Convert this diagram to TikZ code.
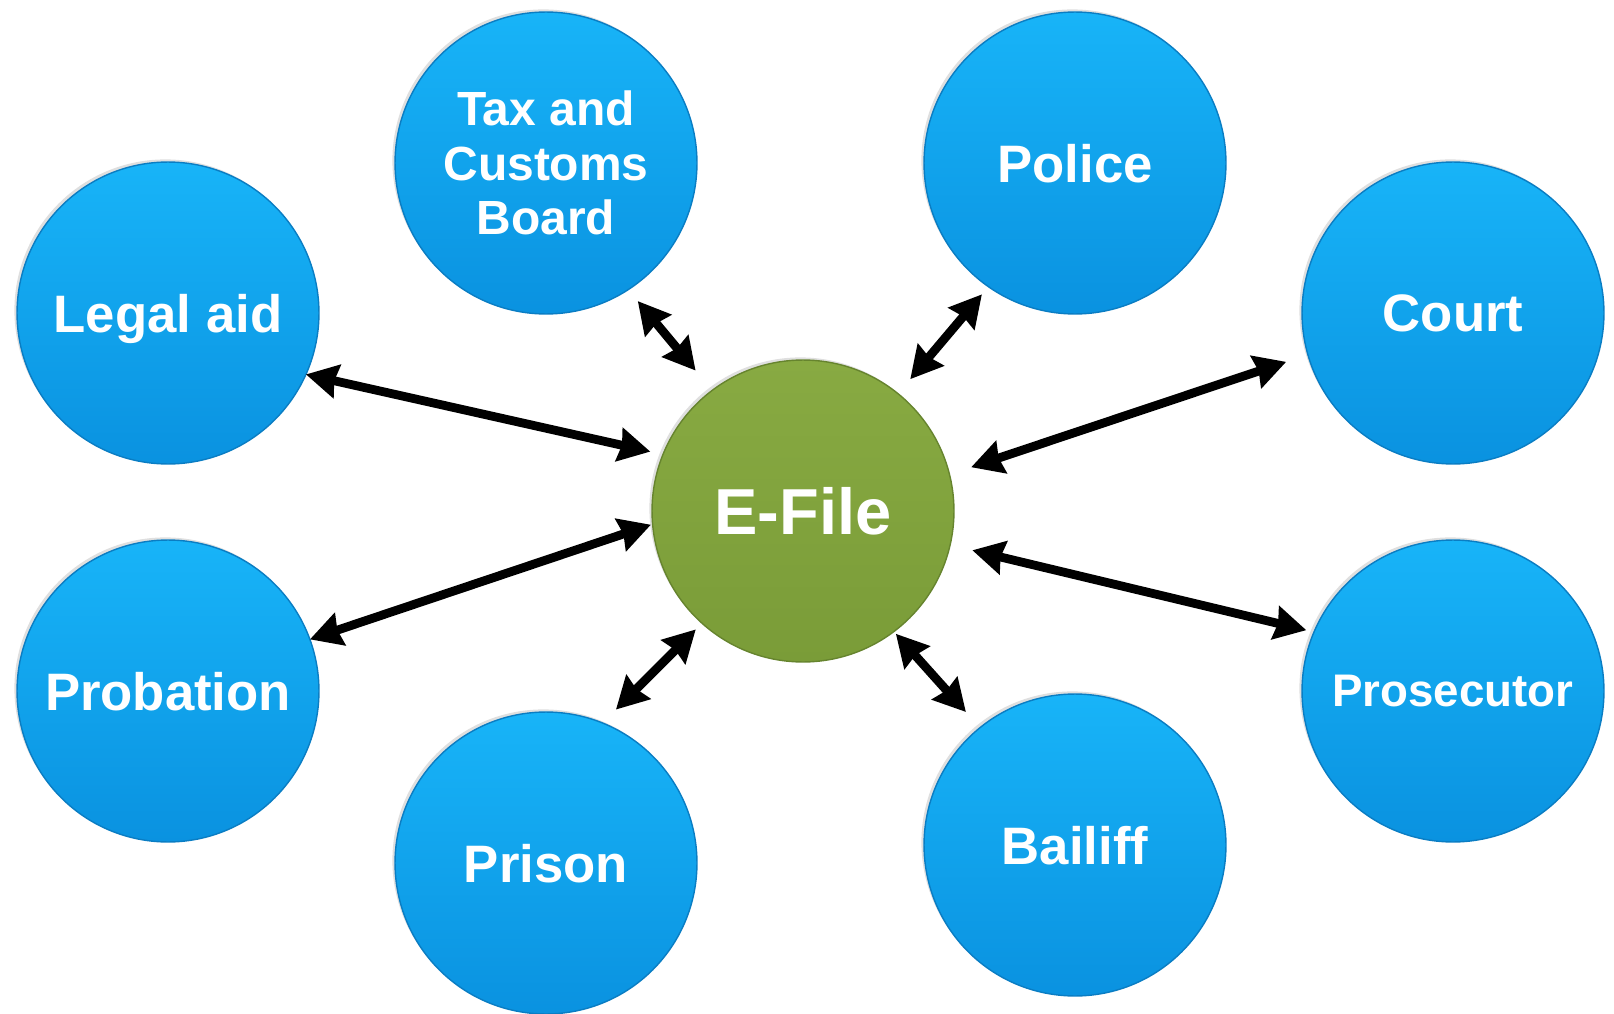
\documentclass[tikz,border=0pt]{standalone}
\usepackage{fontspec}
\setmainfont{Liberation Sans}
\usetikzlibrary{positioning}
\usetikzlibrary{arrows.meta}
\usetikzlibrary{shadows}
\definecolor{bluetop}{RGB}{24,180,248}
\definecolor{bluebot}{RGB}{10,146,224}
\definecolor{blueedge}{RGB}{10,125,195}
\definecolor{greentop}{RGB}{136,170,66}
\definecolor{greenbot}{RGB}{122,156,56}
\definecolor{greenedge}{RGB}{102,132,46}

\begin{document}
\begin{tikzpicture}[x=0.02cm, y=-0.02cm,
  agency node/.style={shape=circle, minimum size=6.04cm, inner sep=0, outer sep=0, draw=blueedge, line width=0.8pt, top color=bluetop, bottom color=bluebot, drop shadow={shadow xshift=-1.5pt, shadow yshift=1.5pt, opacity=0.25}, text=white, align=center, text depth=0pt, font=\bfseries\fontsize{30}{34}\selectfont},
  hub node/.style={agency node, draw=greenedge, top color=greentop, bottom color=greenbot, font=\bfseries\fontsize{37}{42}\selectfont},
  link/.style={line width=5pt, {Stealth[length=18pt,width=19pt,inset=1.5pt]}-{Stealth[length=18pt,width=19pt,inset=1.5pt]}}, ]
		\useasboundingbox (0,0) rectangle (1614,1014);
		%agencies round the hub
		\node[agency node] (legal) at (168,313){Legal aid};
		\node[agency node, font=\bfseries\fontsize{27.3}{31}\selectfont] (tax) at (546,163){Tax and\\Customs\\Board};
		\node[agency node] (police) at (1075,163){Police};
		\node[agency node] (court) at (1453,313){Court};
		\node[agency node] (probation) at (168,691){Probation};
		\node[agency node] (prison) at (546,863){Prison};
		\node[agency node] (bailiff) at (1075,845){Bailiff};
		\node[agency node, font=\bfseries\fontsize{26}{30}\selectfont] (prosecutor) at (1453,691){Prosecutor};
		\node[hub node] (efile) at (803,511){E-File};
		
		%links
		\draw[link, shorten >=7.4pt] (legal.-24) -- (efile.158);
		\draw[link, shorten <=8.5pt, shorten >=14.7pt] (tax.-57) -- (efile.127);
		\draw[link, shorten <=5.7pt, shorten >=10.8pt] (police.-125) -- (efile.51);
		\draw[link, shorten <=13pt, shorten >=13pt] (court.-164) -- (efile.14);
		\draw[link, shorten >=1pt] (probation.20) -- (efile.185);
		\draw[link, shorten <=10.8pt, shorten >=5pt] (prison.68) -- (efile.-132);
		\draw[link, shorten <=12pt, shorten >=1.7pt] (bailiff.129) -- (efile.-53);
		\draw[link, shorten <=4.5pt, shorten >=13pt] (prosecutor.157) -- (efile.-13);
		
\end{tikzpicture}
\end{document}
